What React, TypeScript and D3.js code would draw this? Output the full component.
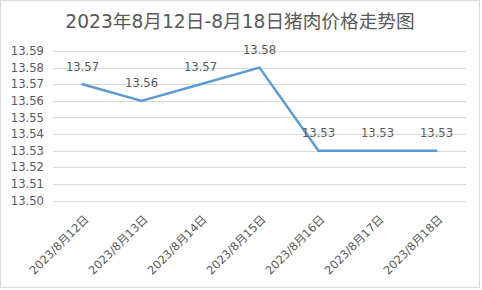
import React from "react";
import * as d3 from "d3";

const title = "2023年8月12日-8月18日猪肉价格走势图";
const categories = [
  "2023/8月12日",
  "2023/8月13日",
  "2023/8月14日",
  "2023/8月15日",
  "2023/8月16日",
  "2023/8月17日",
  "2023/8月18日",
];
const prices = [13.57, 13.56, 13.57, 13.58, 13.53, 13.53, 13.53];
const yTicks = [13.5, 13.51, 13.52, 13.53, 13.54, 13.55, 13.56, 13.57, 13.58, 13.59];

const W = 482;
const H = 290;
const FONT = "'DejaVu Sans', 'Noto Sans CJK SC', sans-serif";
const TEXT = "#595959";
const GRID = "#d9d9d9";
const LINE = "#5b9bd5";

export default function App() {
  const left = 53;
  const right = 466;
  const top = 51;
  const bottom = 200.5;

  const x = d3.scalePoint<string>().domain(categories).range([left, right]).padding(0.5);
  const y = d3.scaleLinear().domain([13.5, 13.59]).range([bottom, top]);

  const line = d3
    .line<number>()
    .x((_, i) => x(categories[i]) as number)
    .y((d) => y(d));

  return (
    <svg
      width={W}
      height={H}
      style={{ position: "absolute", left: 0, top: 0, background: "#fff" }}
      fontFamily={FONT}
    >
      <rect x={0.5} y={0.5} width={479} height={287} fill="#fff" stroke={GRID} strokeWidth={1} />
      <text x={240} y={28} textAnchor="middle" fontSize={18.67} fill={TEXT}>
        {title}
      </text>
      {yTicks.map((t) => (
        <g key={t}>
          <line x1={left} x2={right} y1={Math.round(y(t)) + 0.5} y2={Math.round(y(t)) + 0.5} stroke={GRID} strokeWidth={1} />
          <text x={44} y={y(t)} dy="0.36em" textAnchor="end" fontSize={11.6} fill={TEXT}>
            {t.toFixed(2)}
          </text>
        </g>
      ))}
      <path d={line(prices) || ""} fill="none" stroke={LINE} strokeWidth={2.5} strokeLinejoin="round" strokeLinecap="round" />
      {prices.map((p, i) => (
        <text key={i} x={x(categories[i])} y={y(p) - 13.5} textAnchor="middle" fontSize={11.6} fill={TEXT}>
          {p.toFixed(2)}
        </text>
      ))}
      {categories.map((c) => {
        const cx = (x(c) as number) + 7;
        const cy = 220;
        return (
          <text
            key={c}
            x={cx}
            y={cy}
            textAnchor="end"
            fontSize={11.5}
            fill={TEXT}
            transform={`rotate(-45 ${cx} ${cy})`}
          >
            {c}
          </text>
        );
      })}
    </svg>
  );
}
